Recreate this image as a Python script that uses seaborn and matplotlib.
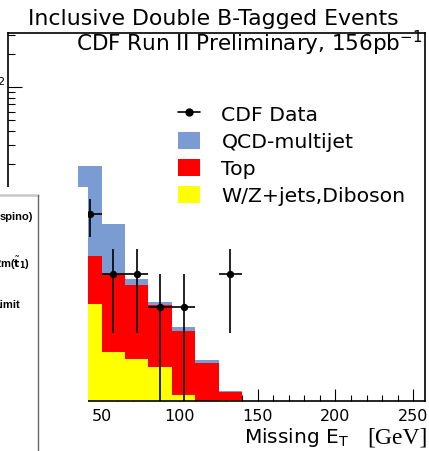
import numpy as np
import pandas as pd
import matplotlib
matplotlib.use("Agg")
import matplotlib.pyplot as plt
import matplotlib.transforms as mtransforms
import seaborn as sns
from matplotlib.patches import Patch, Rectangle
from matplotlib.lines import Line2D
from matplotlib.ticker import MultipleLocator, LogLocator, NullFormatter

# ---------------- data ----------------
bin_edges = [35, 50, 65, 80, 95, 110, 125, 140]
bin_centers = [42.5, 57.5, 72.5, 87.5, 102.5, 117.5, 132.5]
wz_diboson = [1.07, 0.39, 0.34, 0.29, 0.16, 0.13, 0.145]
top_pairs = [1.84, 1.62, 1.26, 0.77, 0.45, 0.18, 0.026]
qcd_multijet = [16.2, 3.7, 0.21, 0.05, 0.05, 0.02, 0.004]
data_x = [42.5, 57.5, 72.5, 87.5, 102.5, 132.5]
data_counts = [7, 2, 2, 1, 1, 2]
legend_labels = ["CDF Data", "QCD-multijet", "Top", "W/Z+jets,Diboson"]
y_label_value = 100

qcd_color = "#7b9bd3"
top_color = "#ff0000"
wz_color = "#ffff00"

# ---------------- style ----------------
sns.set_style("ticks")
plt.rcParams["font.family"] = ["DejaVu Sans"]
plt.rcParams["mathtext.fontset"] = "dejavusans"
for key in ["text.color", "axes.labelcolor", "xtick.color", "ytick.color", "axes.edgecolor"]:
    plt.rcParams[key] = "black"

W, H = 429, 452
fig = plt.figure(figsize=(W / 100, H / 100), dpi=100)
fig.patch.set_facecolor("white")


def fx(px):
    return px / W


def fy(py):
    return 1 - py / H


ax = fig.add_axes([fx(8.3), fy(402.3), fx(425.3) - fx(8.3), fy(34) - fy(402.3)])
ax.set_facecolor("white")

df = pd.DataFrame({"MET": bin_centers, "WZ": wz_diboson, "Top": top_pairs, "QCD": qcd_multijet})
df["WZ_Top"] = df["WZ"] + df["Top"]
df["All"] = df["WZ_Top"] + df["QCD"]

for col, color in [("All", qcd_color), ("WZ_Top", top_color), ("WZ", wz_color)]:
    sns.histplot(data=df, x="MET", weights=col, bins=bin_edges, element="step",
                 fill=True, color=color, alpha=1, linewidth=0, ax=ax)

half_width = np.diff(bin_edges)[0] / 2
ax.errorbar(data_x, data_counts, yerr=np.sqrt(data_counts), xerr=half_width,
            fmt="none", ecolor="black", elinewidth=1.2, capsize=0, zorder=4)
sns.scatterplot(x=data_x, y=data_counts, color="black", s=28, edgecolor="black",
                linewidth=0, zorder=5, ax=ax, legend=False)

ax.set_yscale("log", nonpositive="clip")
ax.set_xlim(-10, 257.7)
ax.set_ylim(0.14, 312)
ax.set_xlabel("")
ax.set_ylabel("")

ax.xaxis.set_major_locator(MultipleLocator(50))
ax.xaxis.set_minor_locator(MultipleLocator(10))
ax.yaxis.set_major_locator(LogLocator(base=10, numticks=10))
ax.yaxis.set_minor_locator(LogLocator(base=10, subs=np.arange(2, 10, dtype=float), numticks=30))
ax.yaxis.set_minor_formatter(NullFormatter())

ax.tick_params(axis="x", which="major", direction="in", length=8.5, width=0.8,
               labelsize=11.5, pad=4.5)
ax.tick_params(axis="x", which="minor", direction="in", length=4.3, width=0.8)
ax.tick_params(axis="y", which="major", direction="in", length=10, width=0.8,
               labelleft=False)
ax.tick_params(axis="y", which="minor", direction="in", length=5, width=0.8)
for sp in ax.spines.values():
    sp.set_linewidth(1.2)
    sp.set_color("black")

# visible y tick label (the others are hidden under the neighbouring panel)
ylab_tr = mtransforms.blended_transform_factory(ax.transAxes, ax.transData) + \
    mtransforms.ScaledTranslation(-3 / 100, 4 / 100, fig.dpi_scale_trans)
ax.text(0, y_label_value, r"$10^{2}$", transform=ylab_tr, ha="right",
        va="center_baseline", fontsize=11.5)

# ---------------- texts ----------------
fig.text(fx(213.8), fy(25), "Inclusive Double B-Tagged Events", ha="center",
         va="baseline", fontsize=15.8)
fig.text(fx(76), fy(51.7), r"CDF Run II Preliminary, 156pb$^{-1}$", ha="left",
         va="baseline", fontsize=15.5)
fig.text(fx(349), fy(443.3), r"Missing E$_\mathregular{T}$", ha="right",
         va="baseline", fontsize=14.5)
fig.text(fx(428), fy(443.3), "[GeV]", ha="right", va="baseline", fontsize=17,
         family=["Liberation Serif", "DejaVu Serif"])

handles = [
    Line2D([0], [0], color="black", lw=1.2, marker="o", markersize=5),
    Patch(facecolor=qcd_color, edgecolor="none"),
    Patch(facecolor=top_color, edgecolor="none"),
    Patch(facecolor=wz_color, edgecolor="none"),
]
fig.legend(handles, legend_labels, loc="upper left",
           bbox_to_anchor=(fx(178), fy(105.5)), bbox_transform=fig.transFigure,
           frameon=False, fontsize=14.7, handlelength=1.08, handleheight=0.93,
           handletextpad=1.05, labelspacing=0.36, borderpad=0, borderaxespad=0)

# ---------------- overlapping neighbour panel (bottom-left) ----------------
fig.add_artist(Rectangle((0, 0), fx(88.3), fy(188.3), transform=fig.transFigure,
                         facecolor="white", edgecolor="none", zorder=10))
fig.add_artist(Line2D([0, fx(38.3)], [fy(196), fy(196)], color="#c8c8c8", lw=1.8,
                      transform=fig.transFigure, zorder=11))
fig.add_artist(Line2D([fx(38.3), fx(38.3)], [fy(196), 0], color="#666666", lw=1.0,
                      transform=fig.transFigure, zorder=11))
side_kw = dict(ha="right", va="center", fontsize=8, fontweight="bold",
               family=["Liberation Sans", "DejaVu Sans"], zorder=12)
fig.text(fx(33.3), fy(217), "spino)", **side_kw)
fig.text(fx(30), fy(263), r"2m($\tilde{\mathbf{t}}_{\mathbf{1}}$)", **side_kw)
fig.text(fx(20), fy(305), "Limit", **side_kw)

fig.savefig("out.png", dpi=100)
